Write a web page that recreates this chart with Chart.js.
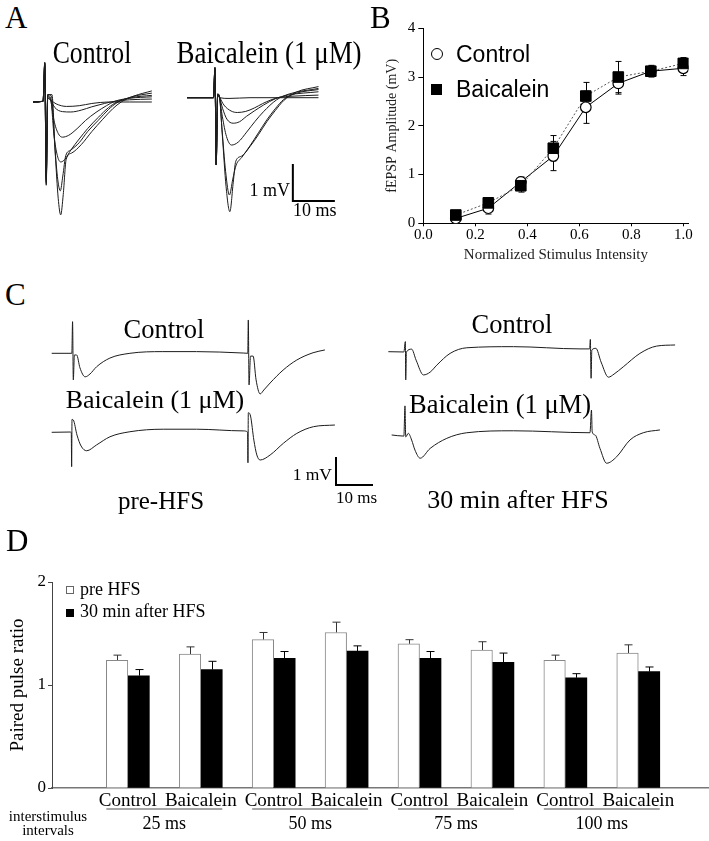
<!DOCTYPE html>
<html>
<head>
<meta charset="utf-8">
<script src="https://cdn.jsdelivr.net/npm/chart.js@4.4.1/dist/chart.umd.min.js"></script>
<style>
  body { margin: 0; background: #fff; }
  #fig { position: relative; width: 709px; height: 841px; overflow: hidden; background: #fff; }
  #fig canvas { position: absolute; }
  .t { position: absolute; white-space: nowrap; color: #000; font-family: 'Liberation Serif', 'Times New Roman', serif; }
  .mk { position: absolute; box-sizing: border-box; }
</style>
</head>
<body>
<div id="fig"></div>
<script>
// ---- A: superimposed fEPSPs at six intensities (time in ms, amplitude in mV)
const aCtrl1 = [[0,0],[2.4,0.02],[2.8,1.0],[3.15,-2.0],[3.5,0.1],[4.2,0.05],[5.5,-0.05],[8,-0.12],[11,-0.1],[14,-0.04],[18,0],[23,0],[28.3,0]];
const aCtrl2 = [[0,0],[2.4,0.02],[2.8,1.02],[3.15,-2.05],[3.5,0.12],[4.2,0.05],[5.2,-0.15],[7,-0.26],[9,-0.27],[11.5,-0.22],[14,-0.13],[17,-0.04],[19.5,0.02],[23,0.06],[28.3,0.08]];
const aCtrl3 = [[0,0],[2.4,0.02],[2.8,1.05],[3.15,-2.1],[3.5,0.15],[4.2,0.05],[5.0,-0.5],[6.0,-0.85],[7,-0.95],[8.5,-0.9],[10.5,-0.72],[12.5,-0.5],[15,-0.28],[17.5,-0.1],[19.5,0.02],[23,0.1],[28.3,0.14]];
const aCtrl4 = [[0,0],[2.4,0.02],[2.8,1.05],[3.15,-2.15],[3.5,0.18],[4.2,0.1],[5.0,-0.9],[5.8,-1.45],[6.6,-1.62],[7.6,-1.55],[9,-1.3],[11,-1.0],[13,-0.72],[15.5,-0.42],[18,-0.15],[20,0.0],[23.5,0.12],[28.3,0.18]];
const aCtrl5 = [[0,0],[2.4,0.02],[2.8,1.05],[3.15,-2.2],[3.5,0.2],[4.4,0.15],[5.2,-1.2],[5.9,-2.1],[6.5,-2.4],[7.1,-2.0],[7.8,-1.45],[9,-1.3],[11,-1.1],[13,-0.8],[15.5,-0.5],[18,-0.2],[20,-0.02],[23.5,0.14],[28.3,0.24]];
const aCtrl6 = [[0,0],[2.4,0.02],[2.8,1.08],[3.15,-2.25],[3.5,0.2],[4.5,0.2],[5.3,-1.4],[6.0,-2.6],[6.6,-3.05],[7.2,-2.5],[7.9,-1.55],[9.2,-1.38],[11.5,-1.15],[14,-0.8],[16.5,-0.48],[19,-0.18],[21,0.0],[24,0.16],[28.3,0.3]];

const aBaic1 = [[0,0],[6.3,0],[6.65,0.78],[6.95,-1.8],[7.3,0.05],[7.7,0],[10,-0.02],[15,0],[20,0],[31.3,0]];
const aBaic2 = [[0,0],[6.3,0],[6.65,0.78],[6.95,-1.8],[7.3,0.08],[7.7,0.02],[8.8,-0.2],[10.5,-0.36],[12,-0.4],[14,-0.37],[16,-0.28],[18,-0.16],[20,-0.06],[22,0.01],[25,0.04],[31.3,0.07]];
const aBaic3 = [[0,0],[6.3,0],[6.65,0.8],[6.95,-1.8],[7.3,0.08],[7.7,0.02],[8.5,-0.3],[9.5,-0.58],[11,-0.69],[12.5,-0.65],[14.2,-0.5],[16,-0.36],[18.2,-0.2],[21,-0.03],[24,0.07],[31.3,0.16]];
const aBaic4 = [[0,0],[6.3,0],[6.65,0.8],[6.95,-1.82],[7.3,0.1],[7.7,0.02],[8.4,-0.5],[9.4,-1.05],[10.6,-1.28],[12.2,-1.2],[14.2,-0.93],[16.2,-0.64],[18.2,-0.38],[21.3,-0.06],[24.3,0.1],[31.3,0.25]];
const aBaic5 = [[0,0],[6.3,0],[6.65,0.82],[6.95,-1.82],[7.3,0.1],[7.7,0.05],[8.3,-0.8],[9.2,-2.0],[10.1,-2.63],[10.9,-2.2],[11.7,-1.82],[13,-1.62],[15,-1.3],[17,-0.95],[19,-0.6],[21,-0.3],[23,-0.05],[26,0.12],[31.3,0.22]];
const aBaic6 = [[0,0],[6.3,0],[6.65,0.82],[6.95,-1.82],[7.3,0.1],[7.7,0.05],[8.4,-1.0],[9.3,-2.4],[10.2,-3.08],[11.0,-2.3],[11.6,-1.72],[13,-1.58],[15,-1.32],[17,-1.0],[19,-0.65],[21,-0.35],[23,-0.08],[26,0.15],[31.3,0.3]];

// ---- B: input/output curve
const intensity = [0.125, 0.25, 0.375, 0.5, 0.625, 0.75, 0.875, 1.0];
const ctrlAmp = [0.10, 0.31, 0.85, 1.38, 2.38, 2.87, 3.12, 3.18];
const ctrlSem = [0.06, 0.12, 0.10, 0.30, 0.33, 0.22, 0.10, 0.15];
const baicAmp = [0.17, 0.42, 0.77, 1.54, 2.61, 3.00, 3.12, 3.28];
const baicSem = [0.06, 0.08, 0.13, 0.26, 0.28, 0.32, 0.12, 0.12];

// ---- C: paired-pulse traces (ms, mV)
const cPreCtrl = [[0.46,0],[5.9,0],[6.1,1.13],[6.3,-0.95],[6.6,-0.06],[7.2,-0.06],[8.1,-0.52],[9.5,-0.84],[10.8,-0.74],[12.6,-0.48],[16.2,-0.17],[21.6,0],[30.5,0.06],[39.6,0.06],[52.2,0.01],[53.45,0],[53.6,1.19],[53.8,-1.13],[54.2,-0.1],[54.9,-0.1],[55.7,-0.95],[56.8,-1.45],[57.8,-1.31],[59.5,-1.06],[63,-0.6],[66.7,-0.24],[71.1,0.02],[74.3,0.12]];
const cPreBaic = [[0.46,0],[5.4,0.01],[5.75,-0.02],[5.85,-1.23],[5.95,0.46],[6.3,0.44],[7.3,-0.1],[8.4,-0.49],[9.9,-0.66],[12.6,-0.45],[16.2,-0.16],[21.6,0.02],[30.6,0.11],[39.6,0.11],[52.2,0.05],[53.4,0.01],[53.5,-1.09],[53.6,0.7],[54.2,0.58],[55.1,-0.28],[55.9,-0.81],[56.8,-0.99],[59.5,-0.81],[63.1,-0.39],[66.7,-0.04],[71.2,0.2],[77,0.26]];
const cPostCtrl = [[0.9,0],[5.1,-0.01],[5.5,0.36],[5.6,-1.01],[5.8,-0.01],[7.2,0.09],[8.4,-0.3],[10.4,-0.83],[12.2,-0.73],[14,-0.48],[17.6,-0.06],[22.1,0.14],[34.7,0.18],[52.7,0.1],[55.3,0.1],[55.5,0.44],[55.7,-0.95],[55.9,0.06],[57,0.12],[58.4,-0.37],[60.4,-0.91],[61.9,-0.8],[64.4,-0.54],[68.9,-0.06],[73.4,0.2],[78.4,0.24]];
const cPostBaic = [[1.8,0],[5.1,-0.04],[5.4,1.04],[5.6,-0.07],[6.3,0.06],[7.2,-0.18],[8.1,-0.54],[9.5,-0.83],[12.2,-0.48],[16.7,-0.12],[22.1,0.08],[34.7,0.15],[55.4,0.08],[55.8,0.89],[56.0,0.11],[56.8,0],[58.1,-0.48],[59.9,-1.01],[62.6,-0.78],[66.2,-0.18],[69.8,0.08],[74.3,0.18]];

// ---- D: paired pulse ratio
const groups = ['Control', 'Baicalein', 'Control', 'Baicalein', 'Control', 'Baicalein', 'Control', 'Baicalein'];
const intervals = ['25 ms', '50 ms', '75 ms', '100 ms'];
const preHFS = [1.24, 1.30, 1.44, 1.51, 1.40, 1.34, 1.24, 1.31];
const preSem = [0.05, 0.07, 0.07, 0.10, 0.04, 0.08, 0.05, 0.08];
const postHFS = [1.09, 1.15, 1.26, 1.33, 1.26, 1.22, 1.07, 1.13];
const postSem = [0.06, 0.08, 0.065, 0.05, 0.065, 0.09, 0.04, 0.045];

const SERIF = "'Liberation Serif', 'Times New Roman', serif";
const fig = document.getElementById('fig');
Chart.defaults.font.family = SERIF;
Chart.defaults.color = '#000';

function makeCanvas(left, top, w, h) {
  const c = document.createElement('canvas');
  c.width = w; c.height = h;
  c.style.left = left + 'px'; c.style.top = top + 'px';
  c.style.width = w + 'px'; c.style.height = h + 'px';
  fig.appendChild(c);
  return c;
}

function label(txt, x, base, size, align, opt) {
  opt = opt || {};
  const d = document.createElement('div');
  d.className = 't';
  d.textContent = txt;
  if (opt.sans) d.style.fontFamily = "'Liberation Sans', Arial, sans-serif";
  d.style.fontSize = size + 'px';
  d.style.lineHeight = size + 'px';
  d.style.top = (base - 0.84 * size) + 'px';
  d.style.left = x + 'px';
  const shift = align === 'center' ? '-50%' : align === 'right' ? '-100%' : '0';
  d.style.transformOrigin = align === 'center' ? '50% 0' : align === 'right' ? '100% 0' : '0 0';
  d.style.transform = 'translateX(' + shift + ') scaleX(' + (opt.sx || 1) + ')';
  fig.appendChild(d);
}

function marker(left, top, w, h, css) {
  const d = document.createElement('div');
  d.className = 'mk';
  d.style.cssText += 'left:' + left + 'px;top:' + top + 'px;width:' + w + 'px;height:' + h + 'px;' + css;
  fig.appendChild(d);
}

// error bars drawn from the dataset values through the y scale
const errorBars = {
  id: 'errorBars',
  beforeDatasetsDraw(chart) {
    const ctx = chart.ctx, ys = chart.scales.y;
    chart.data.datasets.forEach((ds, i) => {
      if (!ds.errors) return;
      const meta = chart.getDatasetMeta(i);
      ctx.save();
      ctx.strokeStyle = ds.errorColor || '#000';
      ctx.lineWidth = 1;
      meta.data.forEach((el, j) => {
        const v = ds.data[j].y, e = ds.errors[j];
        const x = Math.round(el.x) + 0.5;
        const top = ys.getPixelForValue(v + e);
        const bot = ys.getPixelForValue(ds.upOnly ? v : v - e);
        const c = ds.capHalf || 3;
        ctx.beginPath();
        ctx.moveTo(x, top); ctx.lineTo(x, bot);
        ctx.moveTo(x - c, top); ctx.lineTo(x + c, top);
        if (!ds.upOnly) { ctx.moveTo(x - c, bot); ctx.lineTo(x + c, bot); }
        ctx.stroke();
      });
      ctx.restore();
    });
  }
};

function traceChart(left, top, w, h, xMax, yMin, yMax, traces, bar) {
  const cv = makeCanvas(left, top, w, h);
  const datasets = traces.map(tr => ({
    data: tr.map(p => ({ x: p[0], y: p[1] })),
    showLine: true, borderColor: '#1c1c1c', borderWidth: 1, pointRadius: 0,
    cubicInterpolationMode: 'monotone', clip: false
  }));
  if (bar) {
    datasets.push({
      data: [{ x: bar.t, y: bar.v + bar.mV }, { x: bar.t, y: bar.v }, { x: bar.t + bar.ms, y: bar.v }],
      showLine: true, borderColor: '#000', borderWidth: 2, pointRadius: 0, tension: 0, clip: false
    });
  }
  return new Chart(cv, {
    type: 'scatter',
    data: { datasets },
    options: {
      responsive: false, animation: false, devicePixelRatio: 1, events: [],
      layout: { padding: 0 },
      plugins: { legend: { display: false }, tooltip: { enabled: false } },
      scales: {
        x: { type: 'linear', display: false, min: 0, max: xMax },
        y: { type: 'linear', display: false, min: yMin, max: yMax }
      }
    }
  });
}

// ---------- Panel A
traceChart(33, 55, 121, 170, 28.81, -3.324, 1.27, [aCtrl1, aCtrl2, aCtrl3, aCtrl4, aCtrl5, aCtrl6]);
traceChart(187, 55, 150, 170, 35.71, -3.441, 1.154, [aBaic1, aBaic2, aBaic3, aBaic4, aBaic5, aBaic6],
  { t: 25.2, v: -2.79, ms: 10, mV: 1 });

// ---------- Panel B
const cvB = makeCanvas(360, 0, 349, 270);
new Chart(cvB, {
  type: 'scatter',
  data: {
    datasets: [
      {
        label: 'Baicalein', data: intensity.map((x, i) => ({ x, y: baicAmp[i] })), errors: baicSem, capHalf: 3,
        showLine: true, borderColor: '#555', borderWidth: 1, borderDash: [2, 2],
        pointStyle: 'rect', pointRadius: 7.5, pointBackgroundColor: '#000', pointBorderColor: '#000', order: 0
      },
      {
        label: 'Control', data: intensity.map((x, i) => ({ x, y: ctrlAmp[i] })), errors: ctrlSem, capHalf: 3,
        showLine: true, borderColor: '#000', borderWidth: 1,
        pointStyle: 'circle', pointRadius: 5.3, pointBackgroundColor: '#fff', pointBorderColor: '#000', pointBorderWidth: 1.2, order: 1
      }
    ]
  },
  options: {
    responsive: false, animation: false, devicePixelRatio: 1, events: [],
    layout: { padding: { left: 0, top: 28.3, right: 20.5, bottom: 0 } },
    plugins: { legend: { display: false }, tooltip: { enabled: false } },
    scales: {
      x: {
        type: 'linear', min: 0, max: 1.02,
        afterFit: s => { s.height = 46.7; },
        border: { color: '#000', width: 1 },
        grid: { drawOnChartArea: false, tickLength: 3, color: '#000' },
        ticks: { stepSize: 0.2, includeBounds: false, padding: 0, maxRotation: 0, font: { size: 15 }, callback: v => Number(v).toFixed(1) },
        title: { display: true, text: 'Normalized Stimulus Intensity', color: '#222', font: { size: 15 }, padding: { top: 0, bottom: 6 } }
      },
      y: {
        min: 0, max: 4,
        afterFit: s => { s.width = 63.3; },
        border: { color: '#000', width: 1 },
        grid: { drawOnChartArea: false, tickLength: 5, color: '#000' },
        ticks: { stepSize: 1, padding: 3, font: { size: 15 } },
        title: { display: true, text: 'fEPSP Amplitude (mV)', color: '#222', font: { size: 14 }, padding: { top: 24, bottom: 0 } }
      }
    }
  },
  plugins: [errorBars]
});

// ---------- Panel C
traceChart(50, 315, 280, 85, 75.68, -1.668, 1.368, [cPreCtrl]);
traceChart(50, 405, 330, 85, 89.19, -2.061, 0.975, [cPreBaic], { t: 77.3, v: -1.882, ms: 10, mV: 1 });
traceChart(385, 330, 295, 60, 79.73, -1.368, 0.775, [cPostCtrl]);
traceChart(385, 400, 295, 75, 79.73, -1.43, 1.25, [cPostBaic]);

// ---------- Panel D
const barHalf = 21.5;
const intervalLabels = {
  id: 'intervalLabels',
  afterDraw(chart) {
    const xs = chart.scales.x, ctx = chart.ctx, b = chart.chartArea.bottom;
    ctx.save();
    ctx.font = '18px ' + SERIF;
    ctx.fillStyle = '#000';
    ctx.textAlign = 'center';
    ctx.textBaseline = 'alphabetic';
    intervals.forEach((lab, k) => {
      const a = xs.getPixelForValue(2 * k + 1) - barHalf;
      const e = xs.getPixelForValue(2 * k + 2) + barHalf;
      ctx.strokeStyle = '#888';
      ctx.lineWidth = 1.5;
      ctx.beginPath(); ctx.moveTo(a, b + 21); ctx.lineTo(e, b + 21); ctx.stroke();
      ctx.fillText(lab, (a + e) / 2, b + 41);
    });
    ctx.restore();
  }
};

const cvD = makeCanvas(0, 530, 709, 311);
new Chart(cvD, {
  type: 'bar',
  data: {
    datasets: [
      {
        label: 'pre HFS', data: preHFS.map((y, i) => ({ x: i + 1, y })), errors: preSem, upOnly: true, capHalf: 4, errorColor: '#333',
        backgroundColor: '#fff', borderColor: '#888', borderWidth: 1, barThickness: barHalf
      },
      {
        label: '30 min after HFS', data: postHFS.map((y, i) => ({ x: i + 1, y })), errors: postSem, upOnly: true, capHalf: 4, errorColor: '#000',
        backgroundColor: '#000', borderColor: '#000', borderWidth: 0, barThickness: barHalf
      }
    ]
  },
  options: {
    responsive: false, animation: false, devicePixelRatio: 1, events: [],
    layout: { padding: { left: 0, top: 52, right: 0, bottom: 0 } },
    plugins: { legend: { display: false }, tooltip: { enabled: false } },
    scales: {
      x: {
        type: 'linear', min: -0.04, max: 8.97, offset: false,
        afterFit: s => { s.height = 53; },
        afterBuildTicks: s => { s.ticks = groups.map((g, i) => ({ value: i + 1 })); },
        border: { color: '#777', width: 1.5 },
        grid: { display: false, drawTicks: false, offset: false },
        ticks: { padding: 2, autoSkip: false, maxRotation: 0, font: { size: 19 }, callback: v => groups[Math.round(v) - 1] || '' }
      },
      y: {
        min: 0, max: 2,
        afterFit: s => { s.width = 52; },
        border: { color: '#444', width: 1 },
        grid: { drawOnChartArea: false, tickLength: 4, color: '#444' },
        ticks: { stepSize: 1, padding: 2, font: { size: 17 } },
        title: { display: true, text: 'Paired pulse ratio', font: { size: 19 }, padding: { top: 7, bottom: 0 } }
      }
    }
  },
  plugins: [errorBars, intervalLabels]
});

// ---------- text labels
label('A', 5, 28, 31, 'left');
label('Control', 92, 63, 31, 'center', { sx: 0.83 });
label('Baicalein (1 \u03BCM)', 269, 63, 31, 'center', { sx: 0.87 });
label('1 mV', 290, 196, 18, 'right');
label('10 ms', 293, 216, 18, 'left');

label('B', 370, 28, 31, 'left');
marker(430.5, 48, 12, 12, 'border:1.3px solid #000;border-radius:50%;background:#fff;');
label('Control', 456, 62, 23, 'left', { sans: true });
marker(430.5, 83.5, 11, 11, 'background:#000;');
label('Baicalein', 456, 97, 23, 'left', { sans: true });

label('C', 5, 305, 31, 'left');
label('Control', 164, 338, 26.5, 'center');
label('Control', 512, 333, 26.5, 'center');
label('Baicalein (1 \u03BCM)', 155, 409, 26, 'center');
label('Baicalein (1 \u03BCM)', 500, 413, 26.5, 'center');
label('1 mV', 332, 481, 17.5, 'right');
label('10 ms', 336, 503, 17, 'left');
label('pre-HFS', 161, 509, 25, 'center');
label('30 min after HFS', 518, 509, 26, 'center');

label('D', 6, 551, 31, 'left');
marker(66, 586, 8, 8, 'border:1px solid #666;background:#fff;');
label('pre HFS', 80, 595, 18, 'left');
marker(66, 609, 8, 8, 'background:#000;');
label('30 min after HFS', 80, 617, 18, 'left');
label('interstimulus', 48, 822, 15, 'center');
label('intervals', 48, 836, 15, 'center');
</script>
</body>
</html>
